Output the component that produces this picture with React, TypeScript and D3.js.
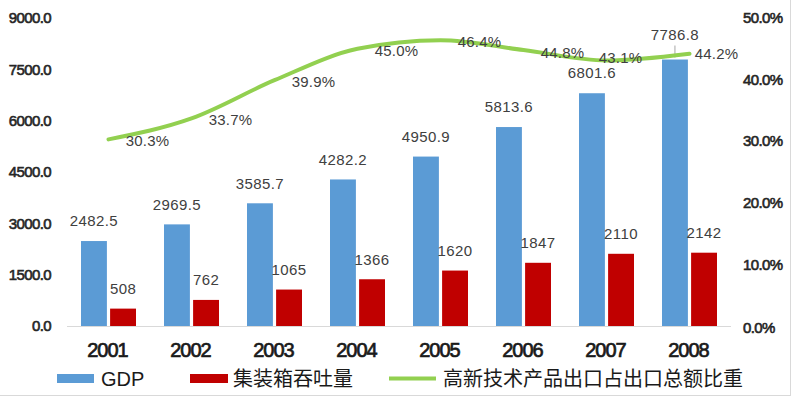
import React from "react";
import * as d3 from "d3";

const years = ["2001", "2002", "2003", "2004", "2005", "2006", "2007", "2008"];
const gdp = [2482.5, 2969.5, 3585.7, 4282.2, 4950.9, 5813.6, 6801.6, 7786.8];
const container = [508, 762, 1065, 1366, 1620, 1847, 2110, 2142];
const hiTechShare = [30.3, 33.7, 39.9, 45.0, 46.4, 44.8, 43.1, 44.2];
const leftTicks = [0, 1500, 3000, 4500, 6000, 7500, 9000];
const rightTicks = [0, 10, 20, 30, 40, 50];
const seriesNames = ["GDP", "集装箱吞吐量", "高新技术产品出口占出口总额比重"];

// label layout tweaks (px offsets of line labels, relative to point)
const lineLabelDx = [39, 39, 39, 39, 39, 39, 14, 27];
const lineLabelDy = [1, 1, 2, 2, 2, 3, -3, 0];

const W = 794;
const H = 397;
const plotLeft = 67;
const plotRight = 731;
const plotTop = 18;
const plotBottom = 326;

const BLUE = "#5B9BD5";
const RED = "#C00000";
const GREEN = "#92D050";
const numFont = "'Liberation Sans', Arial, sans-serif";

export default function App() {
  const x = d3.scaleBand<string>().domain(years).range([plotLeft, plotRight]).paddingInner(0).paddingOuter(0);
  const inner = d3.scaleBand<string>().domain(["gdp", "box"]).range([14, x.bandwidth() - 14]).paddingInner(0.11);
  const yL = d3.scaleLinear().domain([0, 9000]).range([plotBottom, plotTop]);
  const yR = d3.scaleLinear().domain([0, 50]).range([plotBottom, plotTop]);

  const cx = (y: string) => (x(y) as number) + x.bandwidth() / 2;
  const linePts: [number, number][] = years.map((yr, i) => [cx(yr), yR(hiTechShare[i])]);
  const linePath = d3.line().curve(d3.curveMonotoneX)(linePts) || "";

  const bw = inner.bandwidth();

  return (
    <svg width={W} height={H} style={{ position: "absolute", left: 0, top: 0, background: "#fff" }}>
      <rect x={0} y={0} width={W} height={H} fill="#fff" />
      {/* outer frame edges */}
      <line x1={790.5} x2={790.5} y1={0} y2={395} stroke="#d9d9d9" strokeWidth={1} />
      <line x1={0} x2={791} y1={395.5} y2={395.5} stroke="#d9d9d9" strokeWidth={1} />

      {/* left axis ticks */}
      {leftTicks.map((t) => (
        <text key={"l" + t} x={51} y={yL(t)} dy="0.35em" textAnchor="end" fontFamily={numFont}
          fontSize={15} fill="#262626" stroke="#262626" strokeWidth={0.6} letterSpacing={-0.6}>
          {d3.format(".1f")(t)}
        </text>
      ))}
      {/* right axis ticks */}
      {rightTicks.map((t) => (
        <text key={"r" + t} x={743} y={yR(t) + (t === 0 ? 2 : 0)} dy="0.35em" textAnchor="start" fontFamily={numFont}
          fontSize={15} fill="#262626" stroke="#262626" strokeWidth={0.6} letterSpacing={-0.6}>
          {d3.format(".1f")(t) + "%"}
        </text>
      ))}

      {/* baseline */}
      <line x1={plotLeft} x2={plotRight} y1={plotBottom + 0.5} y2={plotBottom + 0.5} stroke="#d9d9d9" strokeWidth={1} />

      {/* bars */}
      {years.map((yr, i) => {
        const x0 = x(yr) as number;
        return (
          <g key={"b" + yr}>
            <rect x={x0 + (inner("gdp") as number)} y={yL(gdp[i])} width={bw} height={plotBottom - yL(gdp[i])} fill={BLUE} />
            <rect x={x0 + (inner("box") as number)} y={yL(container[i])} width={bw} height={plotBottom - yL(container[i])} fill={RED} />
          </g>
        );
      })}

      {/* leader line for 2008 GDP label */}
      <line x1={(x("2008") as number) + (inner("gdp") as number) + bw / 2} x2={(x("2008") as number) + (inner("gdp") as number) + bw / 2}
        y1={yL(gdp[7]) - 14} y2={yL(gdp[7]) - 2} stroke="#a6a6a6" strokeWidth={1} />

      {/* green line */}
      <path d={linePath} fill="none" stroke={GREEN} strokeWidth={4} strokeLinecap="round" strokeLinejoin="round" />

      {/* bar labels */}
      {years.map((yr, i) => {
        const x0 = x(yr) as number;
        const extra = i === 7 ? 5 : 0;
        return (
          <g key={"bl" + yr} fontFamily={numFont} fontSize={15} fill="#404040" letterSpacing={0.4}>
            <text x={x0 + (inner("gdp") as number) + bw / 2} y={yL(gdp[i]) - 20 - extra} dy="0.35em" textAnchor="middle">
              {d3.format(".1f")(gdp[i])}
            </text>
            <text x={x0 + (inner("box") as number) + bw / 2} y={yL(container[i]) - 20} dy="0.35em" textAnchor="middle">
              {container[i]}
            </text>
          </g>
        );
      })}

      {/* line labels */}
      {years.map((yr, i) => (
        <text key={"ll" + yr} x={cx(yr) + lineLabelDx[i]} y={yR(hiTechShare[i]) + lineLabelDy[i]} dy="0.35em" textAnchor="middle"
          fontFamily={numFont} fontSize={15} fill="#404040" letterSpacing={0.2}>
          {d3.format(".1f")(hiTechShare[i]) + "%"}
        </text>
      ))}

      {/* x axis labels */}
      {years.map((yr) => (
        <text key={"x" + yr} x={cx(yr) - 1} y={350} dy="0.35em" textAnchor="middle" fontFamily={numFont}
          fontSize={20} fill="#1a1a1a" stroke="#1a1a1a" strokeWidth={0.7} letterSpacing={-1}>
          {yr}
        </text>
      ))}

      {/* legend */}
      <g>
        <rect x={57} y={374} width={37} height={9} fill={BLUE} />
        <text x={101} y={379} dy="0.35em" fontFamily={numFont} fontSize={20} fill="#1a1a1a">{seriesNames[0]}</text>
        <rect x={190} y={374} width={38} height={9} fill={RED} />
        <text x={233} y={379} dy="0.35em" fontFamily="'Noto Sans CJK SC', sans-serif" fontSize={20} fill="#1a1a1a">{seriesNames[1]}</text>
        <line x1={389} x2={436} y1={378.5} y2={378.5} stroke={GREEN} strokeWidth={4} />
        <text x={443} y={379} dy="0.35em" fontFamily="'Noto Sans CJK SC', sans-serif" fontSize={20} fill="#1a1a1a">{seriesNames[2]}</text>
      </g>
    </svg>
  );
}
